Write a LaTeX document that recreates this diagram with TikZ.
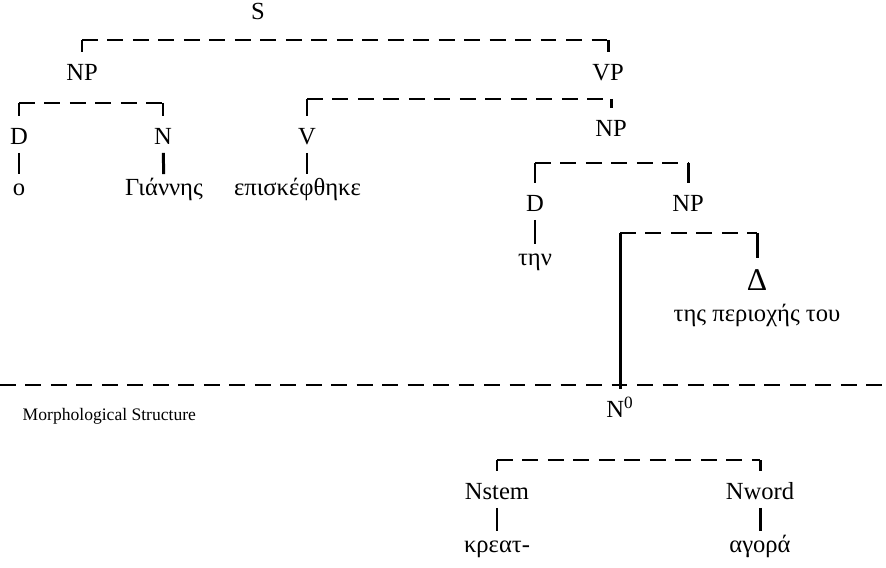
\documentclass[tikz,border=0pt]{standalone}
\usepackage{fontspec}
\setmainfont{Liberation Serif}
\begin{document}
\begin{tikzpicture}[
  every node/.style={font=\fontsize{14}{16}\selectfont, text height=9.5pt, text depth=2pt, inner sep=2.5pt},
  stub/.style={line width=1.7pt},
  leg/.style={line width=1.7pt, shorten >=4pt},
  bar/.style={line width=1.7pt, dash pattern=on 9pt off 5.5pt}]
\useasboundingbox (0,0) rectangle (17.72,11.34);
% syntactic structure
\node (s) at (5.16,11.08) {S};
\node (np) at (1.64,9.86) {NP};
\node (vp) at (12.16,9.86) {VP};
\node (d) at (0.38,8.58) {D};
\node (n) at (3.26,8.58) {N};
\node (v) at (6.14,8.58) {V};
\node (obj) at (12.22,8.74) {NP};
\node (o) at (0.38,7.56) {ο};
\node (giannis) at (3.28,7.56) {Γιάννης};
\node (visited) at (5.95,7.56) {επισκέφθηκε};
\node (det) at (10.70,7.24) {D};
\node (innernp) at (13.76,7.24) {NP};
\node (tin) at (10.70,6.16) {την};
\node[font=\fontsize{18}{20}\selectfont, text height=12pt] (delta) at (15.14,5.70) {Δ};
\node (region) at (15.14,5.04) {της περιοχής του};
\coordinate (sL) at (1.64,10.54);
\coordinate (sR) at (12.16,10.54);
\draw[bar] (sL) -- (sR);
\draw[leg] (sL) -- (np);
\draw[leg] (sR) -- (vp);
\coordinate (npL) at (0.38,9.28);
\coordinate (npR) at (3.26,9.28);
\draw[bar] (npL) -- (npR);
\draw[leg] (npL) -- (d);
\draw[leg] (npR) -- (n);
\coordinate (vpL) at (6.14,9.36);
\coordinate (vpR) at (12.22,9.36);
\draw[bar] (vpL) -- (vpR);
\draw[leg] (vpL) -- (v);
\draw[leg] (vpR) -- (obj);
\coordinate (objL) at (10.70,8.08);
\coordinate (objR) at (13.76,8.08);
\draw[bar] (objL) -- (objR);
\draw[leg] (objL) -- (det);
\draw[leg] (objR) -- (innernp);
\draw[stub] (d) -- (o);
\draw[stub] (n) -- (giannis);
\draw[stub] (v) -- (v |- visited.north);
\draw[stub] (det) -- (tin);
% morphological structure
\coordinate (lineL) at (0,3.64);
\coordinate (lineR) at (17.72,3.64);
\draw[bar] (lineL) -- (lineR);
\node[anchor=base west, font=\fontsize{10}{12}\selectfont] (morph) at (0.36,2.92) {Morphological Structure};
\node (nzero) at (12.40,3.12) {N\textsuperscript{0}};
\node (nstem) at (9.94,1.48) {Nstem};
\node (nword) at (15.20,1.48) {Nword};
\node (kreat) at (9.94,0.42) {κρεατ-};
\node (agora) at (15.20,0.42) {αγορά};
\coordinate (inL) at (12.40,6.68);
\coordinate (inR) at (15.14,6.68);
\draw[bar] (inL) -- (inR);
\draw[leg] (inL) -- (nzero);
\draw[leg] (inR) -- (delta);
\coordinate (nzL) at (9.94,2.14);
\coordinate (nzR) at (15.20,2.14);
\draw[bar] (nzL) -- (nzR);
\draw[leg] (nzL) -- (nstem);
\draw[leg] (nzR) -- (nword);
\draw[stub] (nstem) -- (kreat);
\draw[stub] (nword) -- (agora);
\end{tikzpicture}
\end{document}
